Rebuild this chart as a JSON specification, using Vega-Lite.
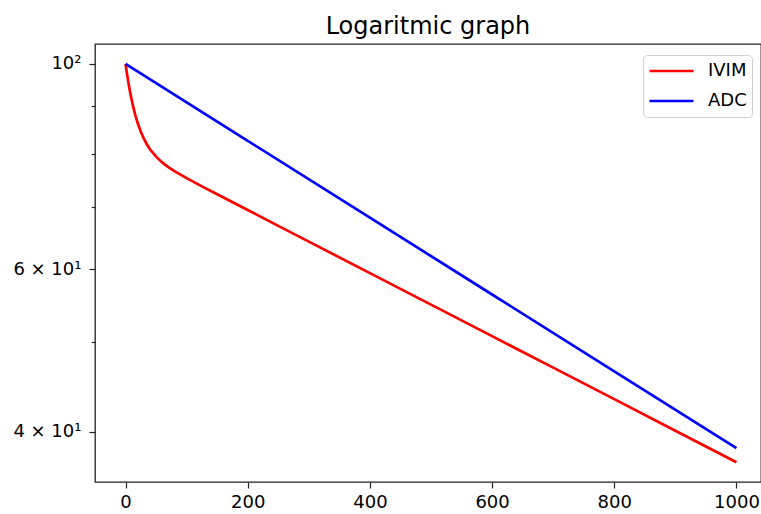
{
  "$schema": "https://vega.github.io/schema/vega-lite/v6.json",
  "width": 666,
  "height": 438,
  "autosize": {"type": "none"},
  "padding": {"left": 95, "top": 44, "right": 0, "bottom": 32},
  "background": "white",
  "title": {
    "text": "Logaritmic graph",
    "font": "DejaVu Sans",
    "fontSize": 24,
    "fontWeight": "normal",
    "color": "#000000",
    "baseline": "alphabetic",
    "offset": 11,
    "dy": 25
  },
  "config": {
    "view": {"stroke": "#222222", "strokeWidth": 1.3},
    "axis": {
      "grid": false,
      "domain": false,
      "labelFont": "DejaVu Sans",
      "labelFontSize": 18,
      "labelColor": "#000000",
      "tickColor": "#222222",
      "tickWidth": 1.2,
      "title": null
    }
  },
  "data": {
    "values": [
      {"b": 0, "series": "IVIM", "signal": 100},
      {"b": 2, "series": "IVIM", "signal": 97.92},
      {"b": 4, "series": "IVIM", "signal": 96.05},
      {"b": 6, "series": "IVIM", "signal": 94.36},
      {"b": 8, "series": "IVIM", "signal": 92.84},
      {"b": 10, "series": "IVIM", "signal": 91.45},
      {"b": 13, "series": "IVIM", "signal": 89.62},
      {"b": 16, "series": "IVIM", "signal": 88.04},
      {"b": 20, "series": "IVIM", "signal": 86.26},
      {"b": 25, "series": "IVIM", "signal": 84.45},
      {"b": 30, "series": "IVIM", "signal": 83.0},
      {"b": 35, "series": "IVIM", "signal": 81.82},
      {"b": 40, "series": "IVIM", "signal": 80.86},
      {"b": 50, "series": "IVIM", "signal": 79.37},
      {"b": 60, "series": "IVIM", "signal": 78.25},
      {"b": 70, "series": "IVIM", "signal": 77.35},
      {"b": 80, "series": "IVIM", "signal": 76.58},
      {"b": 100, "series": "IVIM", "signal": 75.24},
      {"b": 125, "series": "IVIM", "signal": 73.72},
      {"b": 150, "series": "IVIM", "signal": 72.27},
      {"b": 200, "series": "IVIM", "signal": 69.49},
      {"b": 250, "series": "IVIM", "signal": 66.81},
      {"b": 300, "series": "IVIM", "signal": 64.24},
      {"b": 400, "series": "IVIM", "signal": 59.39},
      {"b": 500, "series": "IVIM", "signal": 54.91},
      {"b": 600, "series": "IVIM", "signal": 50.76},
      {"b": 700, "series": "IVIM", "signal": 46.93},
      {"b": 800, "series": "IVIM", "signal": 43.39},
      {"b": 900, "series": "IVIM", "signal": 40.11},
      {"b": 1000, "series": "IVIM", "signal": 37.08},
      {"b": 0, "series": "ADC", "signal": 100},
      {"b": 200, "series": "ADC", "signal": 82.58},
      {"b": 400, "series": "ADC", "signal": 68.19},
      {"b": 600, "series": "ADC", "signal": 56.31},
      {"b": 800, "series": "ADC", "signal": 46.5},
      {"b": 1000, "series": "ADC", "signal": 38.4}
    ]
  },
  "mark": {"type": "line", "strokeWidth": 2.7, "clip": true},
  "encoding": {
    "x": {
      "field": "b",
      "type": "quantitative",
      "scale": {"domain": [-50, 1040.2], "nice": false, "zero": false},
      "axis": {
        "values": [0, 200, 400, 600, 800, 1000],
        "format": "d",
        "tickSize": 6,
        "labelPadding": 5
      }
    },
    "y": {
      "field": "signal",
      "type": "quantitative",
      "scale": {"type": "log", "domain": [35.3, 105.09], "nice": false},
      "axis": {
        "values": [40, 50, 60, 70, 80, 90, 100],
        "labelExpr": "datum.value == 100 ? '10²' : datum.value == 60 ? '6 × 10¹' : datum.value == 40 ? '4 × 10¹' : ''",
        "tickSize": {"condition": {"test": "datum.value == 100 || datum.value == 60 || datum.value == 40", "value": 6}, "value": 3.8},
        "labelPadding": 8
      }
    },
    "color": {
      "field": "series",
      "type": "nominal",
      "scale": {"domain": ["IVIM", "ADC"], "range": ["#ff0000", "#0000ff"]},
      "legend": {
        "orient": "none",
        "legendX": 548,
        "legendY": 11,
        "title": null,
        "symbolType": "stroke",
        "symbolSize": 1936,
        "symbolStrokeWidth": 2.7,
        "clipHeight": 22,
        "rowPadding": 8,
        "labelOffset": 13,
        "labelFont": "DejaVu Sans",
        "labelFontSize": 18,
        "labelColor": "#000000",
        "labelExpr": "datum.label + '  '",
        "padding": 5,
        "strokeColor": "#d0d0d0",
        "fillColor": "rgba(255,255,255,0.8)",
        "cornerRadius": 4
      }
    }
  }
}
